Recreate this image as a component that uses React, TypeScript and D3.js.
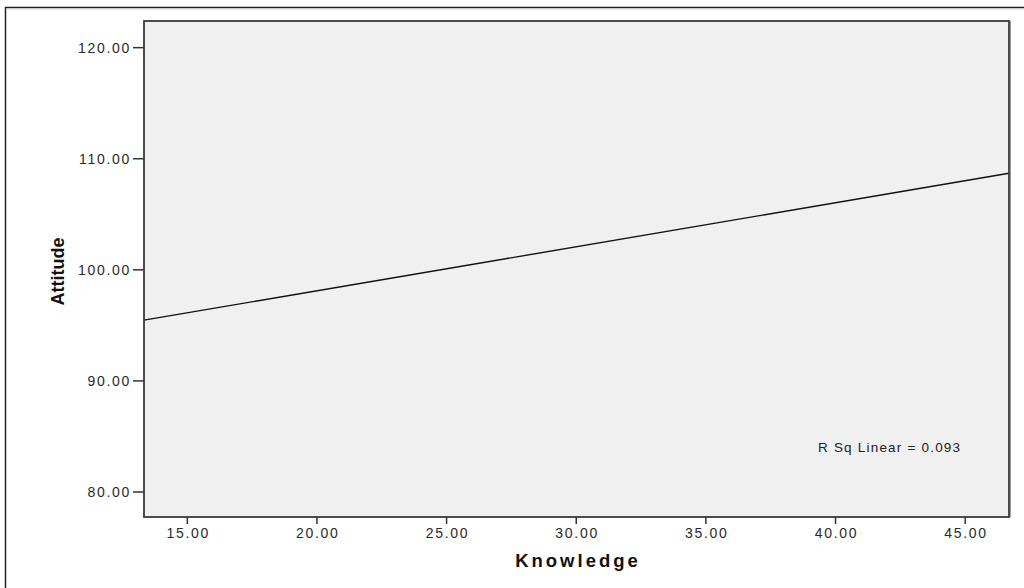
import React from "react";
import * as d3 from "d3";

const xTicks = [15, 20, 25, 30, 35, 40, 45];
const yTicks = [80, 90, 100, 110, 120];
const xDomain = [13.33, 46.69];
const yDomain = [77.75, 122.4];
const fitX = [13.33, 46.69];
const fitY = [95.47, 108.69];
const xTitle = "Knowledge";
const yTitle = "Attitude";
const rsqLabel = "R Sq Linear = 0.093";

export default function App() {
  const W = 1024, H = 588;
  const L = 144, R = 1009, T = 21, B = 517;
  const x = d3.scaleLinear().domain(xDomain).range([L, R]);
  const y = d3.scaleLinear().domain(yDomain).range([B, T]);
  const line = d3.line<number>().x((d, i) => x(fitX[i])).y((d, i) => y(fitY[i]));
  const fmt = d3.format(".2f");
  const tickFont = "Arial, 'Liberation Sans', sans-serif";
  return (
    <svg width={W} height={H} style={{ position: "fixed", left: 0, top: 0, background: "#fff" }}>
      <rect x={5.5} y={7.5} width={1030} height={600} fill="#fff" stroke="#222" strokeWidth={1.5} />
      <line x1={6} x2={1024} y1={9} y2={9} stroke="#ccc" strokeWidth={1} />
      <rect x={L} y={T} width={R - L} height={B - T} fill="#f0f0f0" stroke="none" />
      <path d={line(fitY) || ""} fill="none" stroke="#111" strokeWidth={1.4} />
      <rect x={L} y={T} width={R - L} height={B - T} fill="none" stroke="#3a3a3a" strokeWidth={1.8} />
      <line x1={R + 1.5} x2={R + 1.5} y1={T} y2={B} stroke="#999" strokeWidth={1} />
      {yTicks.map((t) => (
        <g key={"y" + t}>
          <line x1={L - 11} x2={L} y1={y(t)} y2={y(t)} stroke="#333" strokeWidth={1.5} />
          <text x={L - 13} y={y(t)} dy="0.36em" textAnchor="end" fontFamily={tickFont} fontSize={14} letterSpacing={1.7} fill="#2a2a2a">
            {fmt(t)}
          </text>
        </g>
      ))}
      {xTicks.map((t) => (
        <g key={"x" + t}>
          <line x1={x(t)} x2={x(t)} y1={B} y2={B + 7} stroke="#333" strokeWidth={1.5} />
          <text x={x(t) + 0.9} y={538} textAnchor="middle" fontFamily={tickFont} fontSize={14} letterSpacing={1.7} fill="#2a2a2a">
            {fmt(t)}
          </text>
        </g>
      ))}
      <text x={(L + R) / 2 + 1.5} y={567} textAnchor="middle" fontFamily={tickFont} fontWeight="bold" fontSize={18.5} letterSpacing={3} fill="#111">
        {xTitle}
      </text>
      <text transform={`translate(64, ${271.5}) rotate(-90)`} textAnchor="middle" fontFamily="'Liberation Sans Narrow', 'Arial Narrow', sans-serif" fontWeight="bold" fontSize={18} fill="#111">
        {yTitle}
      </text>
      <text x={818} y={452} fontFamily={tickFont} fontSize={13.5} letterSpacing={1.2} fill="#222">
        {rsqLabel}
      </text>
    </svg>
  );
}
